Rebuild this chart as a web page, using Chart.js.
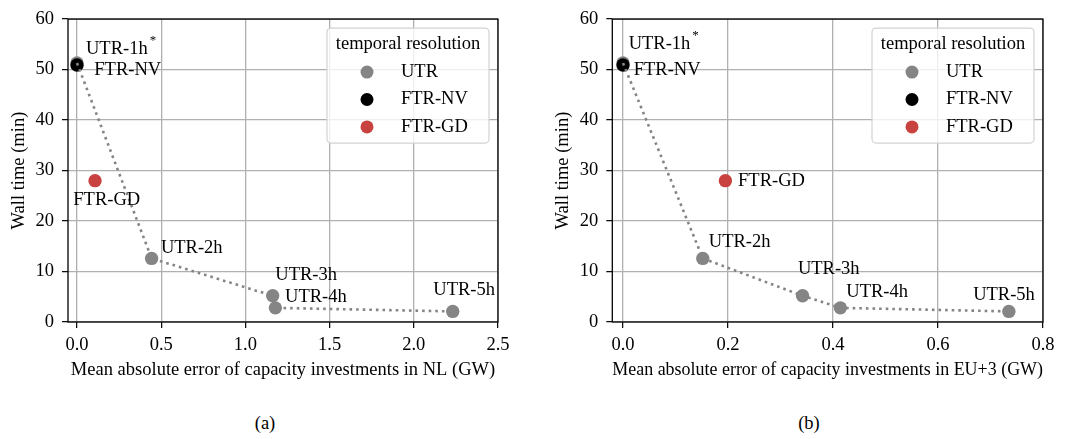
<!DOCTYPE html>
<html>
<head>
<meta charset="utf-8">
<script src="https://cdn.jsdelivr.net/npm/chart.js@4.4.1/dist/chart.umd.min.js"></script>
<style>
    html, body { margin: 0; padding: 0; background: #fff; }
    body { width: 1077px; height: 439px; position: relative; overflow: hidden; font-family: "Liberation Serif", "Times New Roman", serif; }
    .panel { position: absolute; top: 0; height: 385px; }
    .caption { position: absolute; top: 411px; width: 60px; font-size: 18.5px; line-height: 24px; text-align: center; color: #000; }
</style>
</head>
<body>
<div class="panel" style="left:0; width:537px"><canvas id="chartA" width="537" height="385"></canvas></div>
<div class="panel" style="left:537px; width:540px"><canvas id="chartB" width="540" height="385"></canvas></div>
<div class="caption" style="left:235px">(a)</div>
<div class="caption" style="left:779px">(b)</div>

<script>
// data
const seriesNames = ['UTR', 'FTR-NV', 'FTR-GD'];
const legendTitle = 'temporal resolution';

const utrNames = ['UTR-1h', 'UTR-2h', 'UTR-3h', 'UTR-4h', 'UTR-5h'];
const utrWallTime = [51.3, 12.6, 5.2, 2.8, 2.1];
const utrMaeNL = [0.0, 0.443, 1.162, 1.178, 2.231];
const utrMaeEU = [0.0, 0.152, 0.342, 0.414, 0.735];

const nvWallTime = [50.9];
const nvMaeNL = [0.0];
const nvMaeEU = [0.0];

const gdWallTime = [28.0];
const gdMaeNL = [0.107];
const gdMaeEU = [0.195];

const xTicksNL = [0.0, 0.5, 1.0, 1.5, 2.0, 2.5];
const xTicksEU = [0.0, 0.2, 0.4, 0.6, 0.8];
const yTicks = [0, 10, 20, 30, 40, 50, 60];

// label offsets (px) from each point: [dx, dy]
const utrOffsetsNL = [[9, -13.7], [9.3, -10.6], [2.6, -21], [9.7, -11], [-19.4, -21]];
const utrOffsetsEU = [[5.7, -18.4], [6, -16.6], [-4.6, -26.6], [6, -15.6], [-35.7, -16.2]];
const nvOffsetNL = [17.3, 5], nvOffsetEU = [10.7, 5];
const gdOffsetNL = [-21.7, 19.7], gdOffsetEU = [12.7, 0.7];

const FONT = '"Liberation Serif", "Times New Roman", serif';
const FS = 18.5;
const GRAY = '#858585', BLACK = '#000000', RED = '#c8423f';

const toPoints = (xs, ys) => xs.map((x, i) => ({ x: x, y: ys[i] }));

const framePlugin = {
    id: 'frame',
    beforeDatasetsDraw(chart) {
        const { ctx, chartArea: a } = chart;
        ctx.save();
        ctx.strokeStyle = '#000';
        ctx.lineWidth = 1.3;
        ctx.strokeRect(a.left, a.top, a.right - a.left, a.bottom - a.top);
        ctx.restore();
    }
};

const labelPlugin = {
    id: 'pointLabels',
    afterDatasetsDraw(chart, args, opts) {
        const ctx = chart.ctx;
        ctx.save();
        ctx.fillStyle = '#000';
        ctx.textBaseline = 'middle';
        ctx.textAlign = 'left';
        opts.items.forEach(item => {
            const el = chart.getDatasetMeta(item.ds).data[item.idx];
            const x = el.x + item.dx, y = el.y + item.dy;
            ctx.font = FS + 'px ' + FONT;
            ctx.fillText(item.text, x, y);
            if (item.sup) {
                const w = ctx.measureText(item.text).width;
                ctx.font = '13px ' + FONT;
                ctx.fillText(item.sup, x + w + 2, y - 9);
            }
        });
        ctx.restore();
    }
};

const legendPlugin = {
    id: 'boxLegend',
    afterDatasetsDraw(chart) {
        const { ctx, chartArea: a } = chart;
        const w = 162, h = 115;
        const x0 = a.right - 9 - w, y0 = a.top + 9;
        ctx.save();
        ctx.beginPath();
        ctx.roundRect(x0, y0, w, h, 4);
        ctx.fillStyle = 'rgba(255,255,255,0.8)';
        ctx.fill();
        ctx.strokeStyle = '#d2d2d2';
        ctx.lineWidth = 1.2;
        ctx.stroke();
        ctx.font = FS + 'px ' + FONT;
        ctx.fillStyle = '#000';
        ctx.textBaseline = 'middle';
        ctx.textAlign = 'center';
        ctx.fillText(legendTitle, x0 + w / 2, y0 + 16);
        ctx.textAlign = 'left';
        // point datasets are 1..3
        seriesNames.forEach((name, i) => {
            const cy = y0 + 44 + i * 27.4;
            ctx.beginPath();
            ctx.arc(x0 + 40, cy, 6.5, 0, Math.PI * 2);
            ctx.fillStyle = chart.data.datasets[i + 1].backgroundColor;
            ctx.fill();
            ctx.fillStyle = '#000';
            ctx.fillText(name, x0 + 74, cy);
        });
        ctx.restore();
    }
};

function makeChart(id, cfg) {
    const labelItems = utrNames.map((n, i) => ({
        ds: 1, idx: i, text: n, sup: i === 0 ? '*' : null,
        dx: cfg.utrOffsets[i][0], dy: cfg.utrOffsets[i][1]
    }));
    labelItems.push({ ds: 2, idx: 0, text: seriesNames[1], dx: cfg.nvOffset[0], dy: cfg.nvOffset[1] });
    labelItems.push({ ds: 3, idx: 0, text: seriesNames[2], dx: cfg.gdOffset[0], dy: cfg.gdOffset[1] });

    const chart = new Chart(document.getElementById(id), {
        type: 'scatter',
        data: {
            datasets: [{
                // dotted connecting line, drawn on top
                label: 'UTR line',
                data: toPoints(cfg.utrX, utrWallTime),
                showLine: true,
                borderColor: GRAY,
                borderWidth: 2.6,
                borderDash: [2.6, 4],
                pointRadius: 0,
                order: 0
            }, {
                label: seriesNames[0],
                data: toPoints(cfg.utrX, utrWallTime),
                backgroundColor: GRAY,
                pointRadius: 6.7,
                pointBorderWidth: 0,
                order: 3
            }, {
                label: seriesNames[1],
                data: toPoints(cfg.nvX, nvWallTime),
                backgroundColor: BLACK,
                pointRadius: 6.7,
                pointBorderWidth: 0,
                order: 2
            }, {
                label: seriesNames[2],
                data: toPoints(cfg.gdX, gdWallTime),
                backgroundColor: RED,
                pointRadius: 6.7,
                pointBorderWidth: 0,
                order: 2
            }]
        },
        options: {
            responsive: false,
            animation: false,
            events: [],
            layout: { padding: cfg.padding },
            plugins: {
                legend: { display: false },
                tooltip: { enabled: false },
                pointLabels: { items: labelItems }
            },
            scales: {
                x: {
                    type: 'linear',
                    min: cfg.xMin,
                    max: cfg.xMax,
                    afterBuildTicks: s => { s.ticks = cfg.xTicks.map(v => ({ value: v })); },
                    afterFit: s => { s.height = cfg.xHeight; },
                    border: { display: false },
                    grid: { color: '#b0b0b0', lineWidth: 1.3, tickColor: '#000', tickLength: 6, tickWidth: 1.2 },
                    ticks: { color: '#000', padding: 6, font: { family: FONT, size: FS }, callback: v => v.toFixed(1), maxRotation: 0 },
                    title: { display: true, text: cfg.xTitle, color: '#000', font: { family: FONT, size: FS } }
                },
                y: {
                    type: 'linear',
                    min: 0,
                    max: 60,
                    afterBuildTicks: s => { s.ticks = yTicks.map(v => ({ value: v })); },
                    afterFit: s => { s.width = cfg.yWidth; },
                    border: { display: false },
                    grid: { color: '#b0b0b0', lineWidth: 1.3, tickColor: '#000', tickLength: 6, tickWidth: 1.2 },
                    ticks: { color: '#000', padding: 8, font: { family: FONT, size: FS } },
                    title: { display: true, text: 'Wall time (min)', color: '#000', font: { family: FONT, size: FS } }
                }
            }
        },
        plugins: [framePlugin, labelPlugin, legendPlugin]
    });

    // nudge axis sizes / padding until the plot area sits where it does in the figure
    for (let k = 0; k < 3; k++) {
        const a = chart.chartArea, t = cfg.area;
        cfg.yWidth += t.left - a.left;
        cfg.padding.top += t.top - a.top;
        cfg.padding.right += a.right - t.right;
        cfg.xHeight += a.bottom - t.bottom;
        chart.options.layout.padding = cfg.padding;
        chart.update();
    }
    return chart;
}

makeChart('chartA', {
    utrX: utrMaeNL, nvX: nvMaeNL, gdX: gdMaeNL,
    xMin: -0.0535, xMax: 2.5, xTicks: xTicksNL,
    xTitle: 'Mean absolute error of capacity investments in NL (GW)',
    utrOffsets: utrOffsetsNL, nvOffset: nvOffsetNL, gdOffset: gdOffsetNL,
    padding: { left: 4.3, right: 39, top: 14, bottom: 0 },
    yWidth: 63.7, xHeight: 63,
    area: { left: 68, top: 14, right: 498, bottom: 322 }
});

makeChart('chartB', {
    utrX: utrMaeEU, nvX: nvMaeEU, gdX: gdMaeEU,
    xMin: -0.0204, xMax: 0.8, xTicks: xTicksEU,
    xTitle: 'Mean absolute error of capacity investments in EU+3 (GW)',
    utrOffsets: utrOffsetsEU, nvOffset: nvOffsetEU, gdOffset: gdOffsetEU,
    padding: { left: 11, right: 34, top: 14, bottom: 0 },
    yWidth: 64.3, xHeight: 63,
    area: { left: 75.3, top: 14, right: 506, bottom: 322 }
});
</script>
</body>
</html>
